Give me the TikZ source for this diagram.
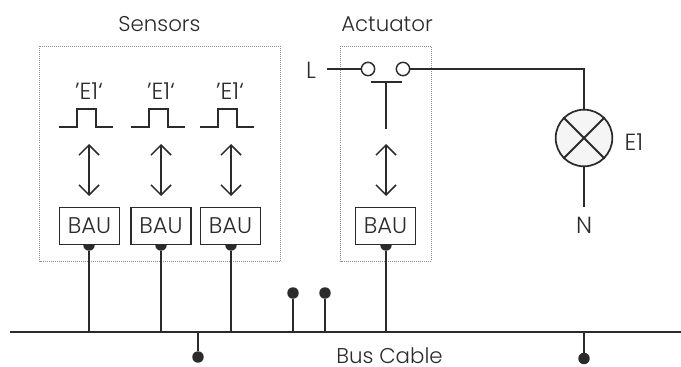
\documentclass[tikz,border=0pt]{standalone}
\usepackage{fontspec}
\setmainfont{Poppins Light}
\usetikzlibrary{arrows.meta}
\definecolor{ink}{HTML}{2B2B2B}

\begin{document}
\begin{tikzpicture}[
    x=0.75pt,y=-0.75pt,
    % define styles
    wire/.style={
        draw=ink,
        line width=1.4pt
    },
    both/.style={
        wire,
        line width=1.1pt,
        {Straight Barb[length=7.5pt,width=15pt]}-{Straight Barb[length=7.5pt,width=15pt]}
    },
    frame/.style={
        draw=black!45,
        densely dotted,
        line width=0.5pt,
        inner sep=0pt
    },
    bau/.style={
        draw=ink,
        fill=white,
        line width=0.8pt,
        minimum width=45pt,
        minimum height=28pt,
        inner sep=0pt,
        text=ink,
        font=\fontsize{17}{19}\selectfont
    },
    dot/.style={
        circle,
        fill=ink,
        inner sep=0pt,
        minimum size=8.6pt
    },
    contact/.style={
        circle,
        draw=ink,
        fill=white,
        line width=1.1pt,
        inner sep=0pt,
        minimum size=10pt
    },
    label/.style={
        text=ink,
        inner sep=0pt,
        font=\fontsize{16}{18}\selectfont
    },
    big/.style={
        label,
        font=\fontsize{17.5}{19}\selectfont
    }
]
\useasboundingbox (0,0) rectangle (681,367);
% Dotted frames and titles
\draw[frame] (39.5,46.5) rectangle (280.5,261);
\draw[frame] (340.5,46.5) rectangle (431,261);
\node[label] at (159.5,24) (sensors) {Sensors};
\node[label] at (387,24) (actuator) {Actuator};
% Dots behind the BAU boxes
\node[dot] at (89,245) (d1) {};
\node[dot] at (161,245) (d2) {};
\node[dot] at (231,245) (d3) {};
\node[dot] at (386,245) (d4) {};
% BAU boxes
\node[bau] at (89.5,226) (bau1) {BAU};
\node[bau] at (161,226) (bau2) {BAU};
\node[bau] at (230.5,226) (bau3) {BAU};
\node[bau] at (385.5,226) (bau4) {BAU};
% Bus
\coordinate (busl) at (10,332);
\coordinate (busr) at (681,332);
\draw[wire] (busl) -- (busr);
\node[label] at (389.5,356) (bus) {Bus Cable};
\draw[wire] (d1) -- (d1|-busl);
\draw[wire] (d2) -- (d2|-busl);
\draw[wire] (d3) -- (d3|-busl);
\draw[wire] (d4) -- (d4|-busl);
% Free ends on the bus
\node[dot] at (293,293) (t1) {};
\node[dot] at (325,293) (t2) {};
\node[dot] at (198,357) (t3) {};
\node[dot] at (584,358.5) (t4) {};
\draw[wire] (t1) -- (t1|-busl);
\draw[wire] (t2) -- (t2|-busl);
\draw[wire] (t3) -- (t3|-busl);
\draw[wire] (t4) -- (t4|-busl);
% Telegrams
\node[big] at (89,91) (e1) {’E1‘};
\node[big] at (161,91) (e2) {’E1‘};
\node[big] at (230,91) (e3) {’E1‘};
\coordinate (p1) at (59,127);
\coordinate (p2) at (131,127);
\coordinate (p3) at (200,127);
\draw[wire] (p1) -- ++(18,0) -- ++(0,-18) -- ++(19,0) -- ++(0,18) -- ++(17,0);
\draw[wire] (p2) -- ++(18,0) -- ++(0,-18) -- ++(19,0) -- ++(0,18) -- ++(17,0);
\draw[wire] (p3) -- ++(18,0) -- ++(0,-18) -- ++(19,0) -- ++(0,18) -- ++(17,0);
% Double arrows
\coordinate (a1) at (89,144);
\coordinate (a2) at (161,144);
\coordinate (a3) at (231,144);
\coordinate (a4) at (386,144);
\draw[both] (a1) -- (a1|-0,196);
\draw[both] (a2) -- (a2|-0,196);
\draw[both] (a3) -- (a3|-0,196);
\draw[both] (a4) -- (a4|-0,196);
% Switch and lamp
\node[big] at (311,70) (l) {L};
\node[contact] at (368,69) (c1) {};
\node[contact] at (403,69) (c2) {};
\node[circle,draw=ink,fill=black!4,line width=1.3pt,inner sep=0pt,minimum size=42.5pt] at (584,138) (lamp) {};
\node[big] at (634,142) (e) {E1};
\node[big] at (584,225) (n) {N};
\coordinate (lstart) at (327,69);
\coordinate (corner) at (584,69);
\coordinate (nend) at (584,207);
\draw[wire] (lstart) -- (c1);
\draw[wire] (c2) -- (corner) -- (lamp);
\draw[wire] (lamp) -- (nend);
\draw[wire] (lamp.north west) -- (lamp.south east);
\draw[wire] (lamp.north east) -- (lamp.south west);
% Push button
\coordinate (bl) at (371,82);
\coordinate (br) at (402,82);
\coordinate (bm) at (386,82);
\coordinate (be) at (386,129);
\draw[wire] (bl) -- (br);
\draw[wire] (bm) -- (be);
\end{tikzpicture}
\end{document}
